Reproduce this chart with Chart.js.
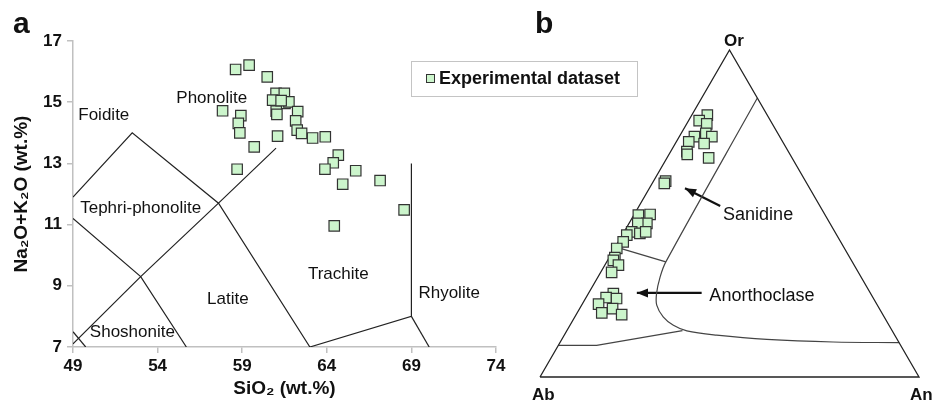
<!DOCTYPE html>
<html lang="en">
<head>
<meta charset="UTF-8">
<title>TAS diagram and feldspar ternary</title>
<script src="https://cdn.jsdelivr.net/npm/chart.js"></script>
<style>
  body { margin: 0; background: #fff; }
  #wrap { position: relative; width: 934px; height: 400px; overflow: hidden; }
  #tasBox { position: absolute; left: 0; top: 0; width: 650px; height: 400px; }
  #terBox { position: absolute; left: 500px; top: 0; width: 434px; height: 400px; }
</style>
</head>
<body>
<div id="wrap">
  <div id="tasBox"><canvas id="tasChart"></canvas></div>
  <div id="terBox"><canvas id="terChart"></canvas></div>
</div>
<script>
// ---- panel a : TAS data ----
const siO2 = [58.61, 59.41, 60.48, 61.0, 61.49, 60.8, 61.53, 61.76, 61.01, 61.05, 62.28, 62.16, 62.25, 62.51,
              63.16, 63.91, 61.09, 59.71, 57.84, 58.92, 58.77, 58.86, 58.7, 64.68, 64.38, 63.89, 65.71, 64.94,
              67.15, 68.57, 64.44, 61.3];
const alkali = [16.07, 16.21, 15.83, 15.29, 15.29, 15.07, 14.96, 15.01, 14.71, 14.6, 14.69, 14.39, 14.09, 13.98,
                13.83, 13.87, 13.89, 13.54, 14.72, 14.56, 14.31, 14.0, 12.81, 13.27, 13.02, 12.81, 12.76, 12.32,
                12.44, 11.48, 10.96, 15.05];

const xTicks = [49, 54, 59, 64, 69, 74];
const yTicks = [7, 9, 11, 13, 15, 17];

// field boundaries [SiO2, Na2O+K2O]
const foiditeLine = [[49, 11.9], [52.5, 14], [57.6, 11.7], [63, 7]];
const phonoliteLine = [[49, 7.1], [53, 9.3], [57.6, 11.7], [61, 13.5]];
const tephriLine = [[49, 11.2], [53, 9.3], [55.7, 7]];
const shoshoLine = [[49, 7.5], [49.75, 7]];
const trachyteLine = [[63, 7], [69, 8], [69, 13]];
const rhyoliteLine = [[69, 8], [70.05, 7]];

const fieldNames = ['Foidite', 'Phonolite', 'Tephri-phonolite', 'Latite', 'Shoshonite', 'Trachite', 'Rhyolite'];
const fieldX = [50.82, 57.2, 53.0, 58.15, 52.51, 64.68, 71.23];
const fieldY = [14.56, 15.12, 11.54, 8.57, 7.49, 9.36, 8.77];

// ---- panel b : feldspar ternary (Or %, An %) ----
const orPct = [80.1, 78.4, 77.4, 74.5, 73.5, 73.5, 71.9, 71.4, 68.9, 68.1, 67.0, 59.9, 59.2, 49.5, 49.7, 47.0, 47.0,
               44.4, 43.9, 44.4, 43.4, 41.3, 39.3, 36.5, 35.7, 34.2, 32.0, 25.5, 24.3, 24.0, 22.3, 20.9, 19.6, 19.1];
const anPct = [4.1, 2.8, 5.3, 6.5, 8.6, 4.0, 3.3, 7.6, 4.3, 4.8, 11.0, 3.2, 3.2, 1.2, 4.2, 4.7, 2.3,
               2.0, 4.4, 5.7, 1.2, 1.3, 0.6, 1.5, 1.5, 3.6, 2.9, 6.6, 5.3, 8.2, 4.3, 8.7, 6.5, 12.0];

const triangle = [[0, 0], [0, 100], [100, 0], [0, 0]];
const solvusLine = [[85.3, 14.7], [35.2, 15.6], [30.6, 16.4], [25.5, 18.0], [22.0, 19.8], [18.4, 23.3],
                    [15.8, 27.3], [14.1, 31.7], [12.8, 40.2], [11.5, 54.1], [10.7, 72.0], [10.5, 89.5]];
const tieLine = [[39.8, 0], [35.2, 15.6]];
const baseLine = [[9.7, 0], [9.7, 10.1], [14.2, 30.5]];

const sanidineArrow = [[52.3, 21.4], [57.7, 9.4]];
const anorthoclaseArrow = [[25.7, 29.8], [25.7, 12.7]];
const phaseNames = ['Sanidine', 'Anorthoclase'];
const phaseOr = [49.5, 24.7];
const phaseAn = [32.8, 46.2];

const FONT = '"Liberation Sans", Arial, Helvetica, sans-serif';
Chart.defaults.font.family = FONT;
Chart.defaults.color = '#111';

const markerStyle = {
  pointStyle: 'rect', pointRadius: 7.4, pointHoverRadius: 7.4,
  backgroundColor: '#ccf5cc', borderColor: '#333', borderWidth: 1.2
};

function lineSet(points, color, width) {
  return {
    data: points.map(p => ({ x: p[0], y: p[1] })),
    showLine: true, pointRadius: 0, borderColor: color, borderWidth: width, fill: false, tension: 0
  };
}

// ternary -> cartesian (Ab at 0,0, An at 1,0, Or at top)
const tern = (or, an) => ({ x: (an + or / 2) / 100, y: or / 100 });

const tasDecor = {
  id: 'tasDecor',
  afterDraw(chart) {
    const { ctx, scales: { x, y } } = chart;
    ctx.save();
    ctx.fillStyle = '#111';
    ctx.font = 'bold 30px ' + FONT;
    ctx.textBaseline = 'alphabetic';
    ctx.fillText('a', 13, 33);

    ctx.font = '17px ' + FONT;
    ctx.textAlign = 'center';
    ctx.textBaseline = 'middle';
    fieldNames.forEach((n, i) => ctx.fillText(n, x.getPixelForValue(fieldX[i]), y.getPixelForValue(fieldY[i])));

    // legend box
    ctx.strokeStyle = '#c4c4c4';
    ctx.lineWidth = 1;
    ctx.strokeRect(411.5, 61.5, 226, 35);
    ctx.fillStyle = '#ccf5cc';
    ctx.fillRect(426, 74, 9, 9);
    ctx.strokeStyle = '#333';
    ctx.strokeRect(426.5, 74.5, 8, 8);
    ctx.fillStyle = '#111';
    ctx.textAlign = 'left';
    ctx.font = 'bold 18px ' + FONT;
    ctx.fillText('Experimental dataset', 439, 79);
    ctx.restore();
  }
};

new Chart(document.getElementById('tasChart'), {
  type: 'scatter',
  data: {
    datasets: [
      Object.assign({ data: siO2.map((v, i) => ({ x: v, y: alkali[i] })) }, markerStyle),
      ...[foiditeLine, phonoliteLine, tephriLine, shoshoLine, trachyteLine, rhyoliteLine].map(l => lineSet(l, '#222', 1.2))
    ]
  },
  options: {
    responsive: true,
    maintainAspectRatio: false,
    animation: false,
    layout: { padding: { left: 0, top: 41, right: 154, bottom: 0 } },
    plugins: { legend: { display: false }, tooltip: { enabled: false } },
    scales: {
      x: {
        type: 'linear', min: 49, max: 74,
        afterBuildTicks: s => { s.ticks = xTicks.map(v => ({ value: v })); },
        afterFit: s => { s.height = 53; },
        ticks: { font: { size: 17, weight: 'bold' }, padding: 3, color: '#111' },
        grid: { drawOnChartArea: false, drawTicks: true, tickLength: 6, color: '#c0c0c0', lineWidth: 1.5 },
        border: { color: '#c0c0c0', width: 1.5 },
        title: { display: true, text: 'SiO₂ (wt.%)', font: { size: 19, weight: 'bold' }, padding: { top: 0, bottom: 0 }, color: '#111' }
      },
      y: {
        type: 'linear', min: 7, max: 17,
        afterBuildTicks: s => { s.ticks = yTicks.map(v => ({ value: v })); },
        afterFit: s => { s.width = 73; },
        ticks: { font: { size: 17, weight: 'bold' }, padding: 5, color: '#111' },
        grid: { drawOnChartArea: false, drawTicks: true, tickLength: 6, color: '#c0c0c0', lineWidth: 1.5 },
        border: { color: '#c0c0c0', width: 1.5 },
        title: { display: true, text: 'Na₂O+K₂O (wt.%)', font: { size: 19, weight: 'bold' }, padding: { top: 10, bottom: 0 }, color: '#111' }
      }
    }
  },
  plugins: [tasDecor]
});

const ternDecor = {
  id: 'ternDecor',
  afterDatasetsDraw(chart) {
    const { ctx, scales: { x, y } } = chart;
    const px = (or, an) => { const p = tern(or, an); return [x.getPixelForValue(p.x), y.getPixelForValue(p.y)]; };
    ctx.save();
    ctx.fillStyle = '#111';

    // arrow heads
    [sanidineArrow, anorthoclaseArrow].forEach(a => {
      const [x0, y0] = px(a[0][0], a[0][1]);
      const [x1, y1] = px(a[1][0], a[1][1]);
      const ang = Math.atan2(y1 - y0, x1 - x0);
      ctx.beginPath();
      ctx.moveTo(x1, y1);
      ctx.lineTo(x1 - 12 * Math.cos(ang - 0.38), y1 - 12 * Math.sin(ang - 0.38));
      ctx.lineTo(x1 - 12 * Math.cos(ang + 0.38), y1 - 12 * Math.sin(ang + 0.38));
      ctx.closePath();
      ctx.fill();
    });

    ctx.font = 'bold 30px ' + FONT;
    ctx.textBaseline = 'alphabetic';
    ctx.fillText('b', 35, 33);

    // corner labels
    ctx.font = 'bold 17px ' + FONT;
    const [orX, orY] = px(100, 0);
    ctx.textAlign = 'center';
    ctx.fillText('Or', orX + 4.5, orY - 4);
    ctx.textAlign = 'left';
    ctx.textBaseline = 'top';
    const [abX, abY] = px(0, 0);
    ctx.fillText('Ab', abX - 8, abY + 10);
    const [anX, anY] = px(0, 100);
    ctx.fillText('An', anX - 9, anY + 10);

    ctx.font = '18px ' + FONT;
    ctx.textAlign = 'center';
    ctx.textBaseline = 'middle';
    phaseNames.forEach((n, i) => {
      const [lx, ly] = px(phaseOr[i], phaseAn[i]);
      ctx.fillText(n, lx, ly);
    });
    ctx.restore();
  }
};

function ternSet(points, color, width, tension) {
  const s = lineSet(points.map(p => { const c = tern(p[0], p[1]); return [c.x, c.y]; }), color, width);
  s.tension = tension || 0;
  s.clip = false;
  return s;
}

new Chart(document.getElementById('terChart'), {
  type: 'scatter',
  data: {
    datasets: [
      Object.assign({ data: orPct.map((v, i) => tern(v, anPct[i])), clip: false }, markerStyle),
      ternSet(triangle, '#222', 1.3),
      ternSet(solvusLine, '#444', 1.2, 0.35),
      ternSet(tieLine, '#444', 1.2),
      ternSet(baseLine, '#444', 1.2),
      ternSet(sanidineArrow, '#111', 2.2),
      ternSet(anorthoclaseArrow, '#111', 2.2)
    ]
  },
  options: {
    responsive: true,
    maintainAspectRatio: false,
    animation: false,
    layout: { padding: { left: 40, top: 50, right: 15, bottom: 23 } },
    plugins: { legend: { display: false }, tooltip: { enabled: false } },
    scales: {
      x: { type: 'linear', min: 0, max: 1, display: false },
      y: { type: 'linear', min: 0, max: 1, display: false }
    }
  },
  plugins: [ternDecor]
});
</script>
</body>
</html>
